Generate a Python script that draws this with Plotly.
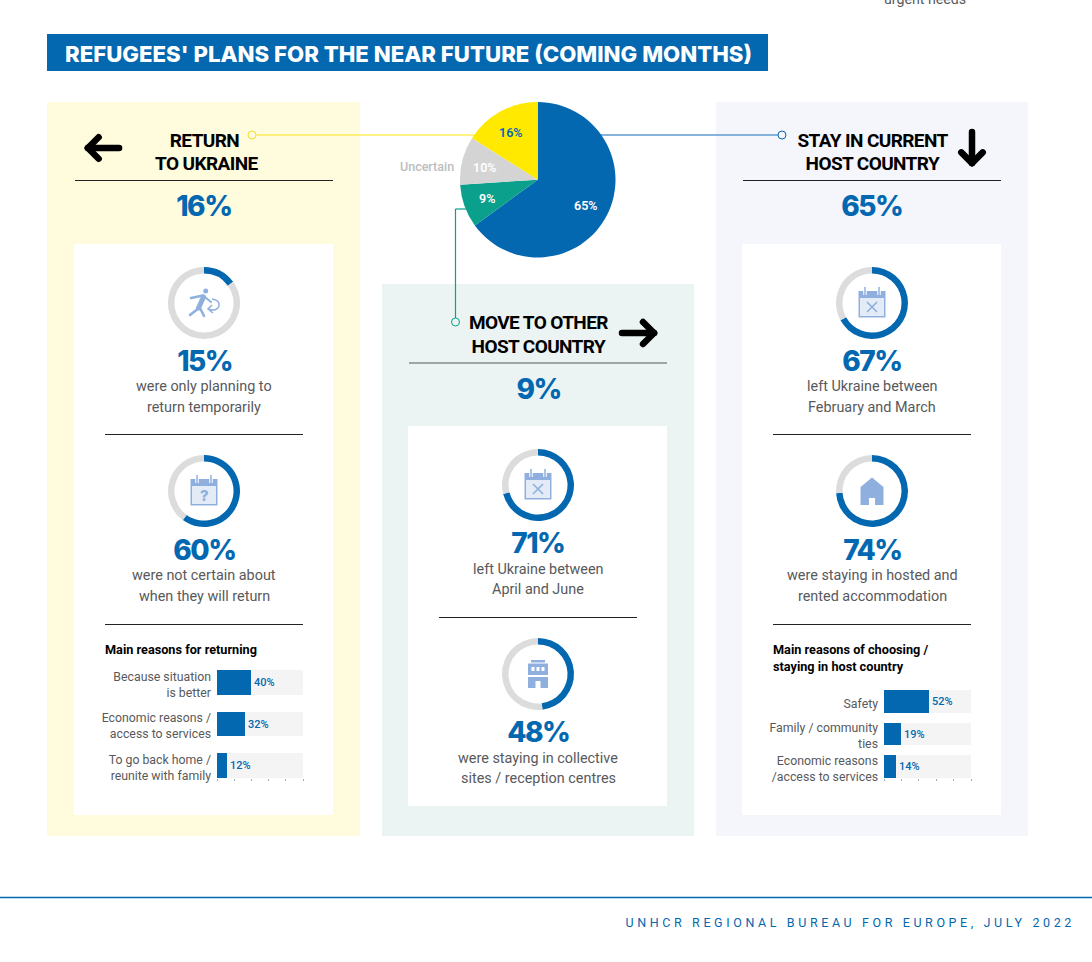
import plotly.graph_objects as go

W, H = 1092, 962

# Data
plan_labels = ['Stay in current host country', 'Move to other host country', 'Uncertain', 'Return to Ukraine']
plan_values = [65, 9, 10, 16]
plan_text = ['65%', '9%', '10%', '16%']

return_donuts = [15, 60]
move_donuts = [71, 48]
stay_donuts = [67, 74]

return_reasons = ['Because situation<br>is better', 'Economic reasons /<br>access to services', 'To go back home /<br>reunite with family']
return_reason_values = [40, 32, 12]
stay_reasons = ['Safety', 'Family / community<br>ties', 'Economic reasons<br>/access to services']
stay_reason_values = [52, 19, 14]

BLUE = '#0468B1'
ICON = '#8FB0DF'
ICON_PALE = '#E3EBF7'
TEXT = '#58595B'
BODY_FONT = 'Roboto'
HEAD_FONT = 'Roboto'
NUM_FONT = 'Inter'

fig = go.Figure()
shapes = []
annotations = []


def domain(x0, y0, x1, y1):
    return dict(x=[x0 / W, x1 / W], y=[1 - y1 / H, 1 - y0 / H])


def rect(x0, y0, x1, y1, color, layer='below'):
    shapes.append(dict(type='rect', xref='x', yref='y', x0=x0, y0=y0, x1=x1, y1=y1,
                       fillcolor=color, line_width=0, layer=layer))


def rule(x0, y0, x1, y1, color='#222222', width=1):
    shapes.append(dict(type='line', xref='x', yref='y', x0=x0, y0=y0, x1=x1, y1=y1,
                       line=dict(color=color, width=width), layer='below'))


def dot(cx, cy, color, r=4, fill='#FFFFFF'):
    shapes.append(dict(type='circle', xref='x', yref='y', x0=cx - r, y0=cy - r, x1=cx + r, y1=cy + r,
                       fillcolor=fill, line=dict(color=color, width=1), layer='above'))


def label(x, y, text, size, color=TEXT, family=BODY_FONT, weight=400, anchor='center'):
    annotations.append(dict(xref='x', yref='y', x=x, y=y, text=text, showarrow=False,
                            xanchor=anchor, yanchor='middle', borderpad=0,
                            font=dict(family=family, size=size, color=color, weight=weight)))


def capsule(x0, y0, x1, y1, w, color):
    # rounded bar from one point to another
    dx, dy = x1 - x0, y1 - y0
    length = (dx ** 2 + dy ** 2) ** 0.5
    ux, uy = dx / length * w / 2, dy / length * w / 2
    nx, ny = -uy, ux
    d = (f'M{x0 + nx},{y0 + ny} L{x1 + nx},{y1 + ny} Q{x1 + nx + ux},{y1 + ny + uy} {x1 + ux},{y1 + uy} '
         f'Q{x1 - nx + ux},{y1 - ny + uy} {x1 - nx},{y1 - ny} L{x0 - nx},{y0 - ny} '
         f'Q{x0 - nx - ux},{y0 - ny - uy} {x0 - ux},{y0 - uy} Q{x0 + nx - ux},{y0 + ny - uy} {x0 + nx},{y0 + ny} Z')
    path(d, color)


def path(d, color, layer='above'):
    shapes.append(dict(type='path', xref='x', yref='y', path=d, fillcolor=color, line_width=0, layer=layer))


def arrow(x0, y0, x1, y1):
    # big black arrow, tip at x1,y1
    ux, uy = (x1 - x0) / 38, (y1 - y0) / 38
    nx, ny = -uy, ux
    bx, by = x1 - ux * 14, y1 - uy * 14
    capsule(x0 + ux * 3, y0 + uy * 3, x1 - ux * 3, y1 - uy * 3, 6.5, '#000000')
    capsule(x1 - ux * 3, y1 - uy * 3, bx + nx * 11, by + ny * 11, 6.5, '#000000')
    capsule(x1 - ux * 3, y1 - uy * 3, bx - nx * 11, by - ny * 11, 6.5, '#000000')


def calendar_icon(cx, cy, mark='x'):
    rect(cx - 13.5, cy - 12, cx + 13.5, cy + 14.5, ICON, 'above')
    rect(cx - 12, cy - 5, cx + 12, cy + 13, ICON_PALE, 'above')
    for tx in (cx - 7, cx + 7):
        rule_shape = dict(type='line', xref='x', yref='y', x0=tx, y0=cy - 16, x1=tx, y1=cy - 8, layer='above',
                          line=dict(color='#FFFFFF', width=3.5))
        shapes.append(rule_shape)
        shapes.append(dict(rule_shape, line=dict(color=ICON, width=1.5)))
    if mark == 'x':
        for sign in (1, -1):
            shapes.append(dict(type='line', xref='x', yref='y', x0=cx - 5, y0=cy + 4 - 5 * sign, x1=cx + 5,
                               y1=cy + 4 + 5 * sign, line=dict(color=ICON, width=1.6), layer='above'))
    else:
        label(cx, cy + 4, '?', 15, ICON, 'Inter', 800)


def house_icon(cx, cy):
    path(f'M{cx},{cy - 13.5} L{cx + 11.5},{cy - 4} V{cy + 14} H{cx + 3} V{cy + 7} H{cx - 3} V{cy + 14} '
         f'H{cx - 11.5} V{cy - 4} Z', ICON)


def building_icon(cx, cy):
    rect(cx - 7, cy - 14, cx + 7, cy - 11.5, ICON, 'above')
    rect(cx - 10, cy - 10.5, cx + 10, cy + 1, ICON, 'above')
    rect(cx - 10, cy + 3, cx + 10, cy + 14, ICON, 'above')
    for wx in (cx - 6.5, cx - 1.5, cx + 3.5):
        rect(wx, cy - 7, wx + 3, cy - 3, '#FFFFFF', 'above')
    rect(cx - 2.5, cy + 7, cx + 2.5, cy + 14, '#FFFFFF', 'above')


def person_icon(cx, cy):
    shapes.append(dict(type='circle', xref='x', yref='y', x0=cx - 0.8, y0=cy - 14.5, x1=cx + 4.2, y1=cy - 9.5,
                       fillcolor=ICON, line_width=0, layer='above'))
    capsule(cx - 0.5, cy - 6, cx - 5.5, cy + 5, 5, ICON)
    capsule(cx - 5, cy + 5, cx - 14, cy + 12, 2.5, ICON)
    capsule(cx - 4.5, cy + 4, cx, cy + 13, 2.5, ICON)
    capsule(cx - 1, cy - 7.5, cx - 13, cy - 5, 2.5, ICON)
    capsule(cx - 1, cy - 7.5, cx + 7, cy - 1, 2, ICON)
    shapes.append(dict(type='path', xref='x', yref='y', layer='above', line=dict(color=ICON, width=1.6),
                       path=f'M{cx + 8},{cy - 4} Q{cx + 16},{cy - 3} {cx + 15},{cy + 3} Q{cx + 13},{cy + 9} {cx + 4},{cy + 6} '
                            f'M{cx + 8},{cy + 2} L{cx + 4},{cy + 6} L{cx + 9},{cy + 10}'))


def donut(cx, cy, value):
    fig.add_trace(go.Pie(values=[value, 100 - value], domain=domain(cx - 36, cy - 36, cx + 36, cy + 36),
                         hole=0.82, sort=False, direction='clockwise', rotation=0, textinfo='none',
                         marker=dict(colors=[BLUE, '#DCDCDC'], line=dict(width=0)),
                         hoverinfo='skip', showlegend=False))


def reason_bars(x0, y0, x1, y1, reasons, values, bar_width, xname, yname):
    fig.add_trace(go.Bar(x=[100] * len(values), y=reasons, orientation='h', width=bar_width,
                         marker=dict(color='#F4F4F4', line_width=0), xaxis=xname, yaxis=yname,
                         hoverinfo='skip', showlegend=False))
    fig.add_trace(go.Bar(x=values, y=reasons, orientation='h', width=bar_width,
                         marker=dict(color=BLUE, line_width=0), xaxis=xname, yaxis=yname,
                         text=[f'{v}%' for v in values], textposition='outside', cliponaxis=False,
                         constraintext='none', textfont=dict(family=BODY_FONT, size=11, color=BLUE, weight=500),
                         hoverinfo='skip', showlegend=False))
    dom = domain(x0, y0, x1, y1)
    fig.layout['xaxis' + xname[1:]] = dict(domain=dom['x'], range=[0, 100], anchor=yname, showgrid=False,
                                           zeroline=False, showline=False, showticklabels=False, fixedrange=True,
                                           ticks='outside', ticklen=2, tickwidth=1, tickcolor='#AAAAAA',
                                           tick0=0, dtick=20)
    fig.layout['yaxis' + yname[1:]] = dict(domain=dom['y'], range=[len(values) - 1 + bar_width / 2, -bar_width / 2],
                                           anchor=xname, showgrid=False, zeroline=False, showline=False,
                                           ticks='', ticklabelstandoff=5, ticklabelshift=-2, fixedrange=True,
                                           type='category',
                                           tickfont=dict(family=BODY_FONT, size=12.3, color=TEXT))


# Panels
rect(47, 34, 768, 71, BLUE)
rect(47, 102, 360, 836, '#FFFBDD')
rect(382, 284, 694, 836, '#ECF4F3')
rect(716, 102, 1028, 836, '#F5F6FC')
rect(74, 244, 333, 815, '#FFFFFF')
rect(408, 426, 667, 806, '#FFFFFF')
rect(742, 244, 1001, 815, '#FFFFFF')

rule(75, 180.5, 333, 180.5)
rule(409, 363, 667, 363, '#555555')
rule(743, 180.5, 1001, 180.5)
rule(105, 434.5, 303, 434.5)
rule(105, 624.5, 303, 624.5)
rule(439, 617.5, 637, 617.5)
rule(773, 434.5, 971, 434.5)
rule(773, 624.5, 971, 624.5)
rule(0, 897.5, 1092, 897.5, BLUE, 1.5)

# Connectors from the pie
rule(252, 135, 480, 135, '#FFEC5C', 1.5)
rule(595, 135, 782, 135, '#5E9BD1', 1.5)
rule(455.5, 209, 468, 209, '#0BA08C', 1.2)
rule(455.5, 209, 455.5, 318, '#0BA08C', 1.2)
dot(252, 135, '#F5DF2E', fill='#FFFBDD')
dot(782, 135, BLUE, fill='#F5F6FC')
dot(455.5, 322, '#0BA08C', fill='#ECF4F3')

# Main pie
fig.add_trace(go.Pie(labels=plan_labels, values=plan_values,
                     domain=domain(460, 102, 615.5, 257.5), sort=False, direction='clockwise', rotation=0,
                     textinfo='none',
                     marker=dict(colors=[BLUE, '#0BA08C', '#D4D4D4', '#FFE900'], line=dict(width=0)),
                     hoverinfo='skip', showlegend=False))
for (x, y), text, color in zip([(586, 205), (487, 198), (485, 167), (511, 132)], plan_text,
                               ['#FFFFFF', '#FFFFFF', '#FFFFFF', BLUE]):
    label(x, y, text, 12.5, color, BODY_FONT, 600)

# Donuts and icons
donut(204, 303, return_donuts[0])
donut(204, 491, return_donuts[1])
donut(538, 485, move_donuts[0])
donut(538, 674, move_donuts[1])
donut(872, 303, stay_donuts[0])
donut(872, 491, stay_donuts[1])

person_icon(204, 303)
calendar_icon(204, 491, '?')
calendar_icon(538, 485)
building_icon(538, 674)
calendar_icon(872, 303)
house_icon(872, 491)

# Reason bars
reason_bars(217, 670, 303, 778, return_reasons, return_reason_values, 0.6, 'x2', 'y2')
reason_bars(884, 690, 971, 778, stay_reasons, stay_reason_values, 0.7, 'x3', 'y3')

# Arrows
arrow(122, 148, 85, 148)
arrow(619, 333, 657, 333)
arrow(972, 129, 972, 166)

# Text
label(408, 53, "REFUGEES' PLANS FOR THE NEAR FUTURE (COMING MONTHS)", 22.2, '#FFFFFF', 'Inter', 800)
annotations.append(dict(xref='x', yref='paper', x=968, y=1 + 1 / H, text='urgent needs', showarrow=False,
                        xanchor='right', yanchor='middle', font=dict(family=BODY_FONT, size=14.2, color=TEXT)))
label(850.5, 922, 'UNHCR REGIONAL BUREAU FOR EUROPE, JULY 2022', 12.5, BLUE)
label(427, 166, 'Uncertain', 12.5, '#BDBDBD', weight=500)

for x, y, text in [(204, 140, 'RETURN'), (206, 163, 'TO UKRAINE'),
                   (538, 322, 'MOVE TO OTHER'), (538, 346, 'HOST COUNTRY'),
                   (872, 140, 'STAY IN CURRENT'), (872, 163, 'HOST COUNTRY')]:
    label(x, y, text, 19, '#000000', HEAD_FONT, 700)

for x, y, text in [(204, 206, '16%'), (538, 389, '9%'), (872, 206, '65%')]:
    label(x, y, text, 28, BLUE, NUM_FONT, 800)

for x, y, text in [(204, 361, '15%'), (204, 550, '60%'), (538, 543, '71%'),
                   (538, 732, '48%'), (872, 361, '67%'), (872, 550, '74%')]:
    label(x, y, text, 28, BLUE, NUM_FONT, 800)

for x, y, text in [(204, 386, 'were only planning to'), (204, 407, 'return temporarily'),
                   (204, 575, 'were not certain about'), (204, 596, 'when they will return'),
                   (538, 569, 'left Ukraine between'), (538, 589, 'April and June'),
                   (538, 758, 'were staying in collective'), (538, 778, 'sites / reception centres'),
                   (872, 386, 'left Ukraine between'), (872, 407, 'February and March'),
                   (872, 575, 'were staying in hosted and'), (872, 596, 'rented accommodation')]:
    label(x, y, text, 14.4, TEXT)

label(104, 649, 'Main reasons for returning', 12.7, '#000000', BODY_FONT, 700, 'left')
label(772, 649, 'Main reasons of choosing /', 12.7, '#000000', BODY_FONT, 700, 'left')
label(772, 666, 'staying in host country', 12.7, '#000000', BODY_FONT, 700, 'left')

fig.update_layout(width=W, height=H, margin=dict(l=0, r=0, t=0, b=0, pad=0, autoexpand=False), autosize=False,
                  paper_bgcolor='#FFFFFF', plot_bgcolor='rgba(0,0,0,0)', barmode='overlay',
                  bargap=0, shapes=shapes, annotations=annotations,
                  xaxis=dict(domain=[0, 1], range=[0, W], visible=False, fixedrange=True),
                  yaxis=dict(domain=[0, 1], range=[H, 0], visible=False, fixedrange=True))

# letter spacing has no plotly attribute, so it is set on the drawn text
page_script = """
document.body.style.margin = '0';
document.body.style.overflow = 'hidden';
document.querySelectorAll('.annotation-text').forEach(function (t) {
    if (t.textContent.indexOf('UNHCR') === 0) { t.style.letterSpacing = '3.6px'; }
    if (t.style.fontSize === '19px') { t.style.letterSpacing = '-0.6px'; }
    if (t.style.fontSize === '28px') { t.style.letterSpacing = '-1.5px'; }
});
"""
fig.write_html('out.html', config={'displayModeBar': False}, post_script=page_script)
